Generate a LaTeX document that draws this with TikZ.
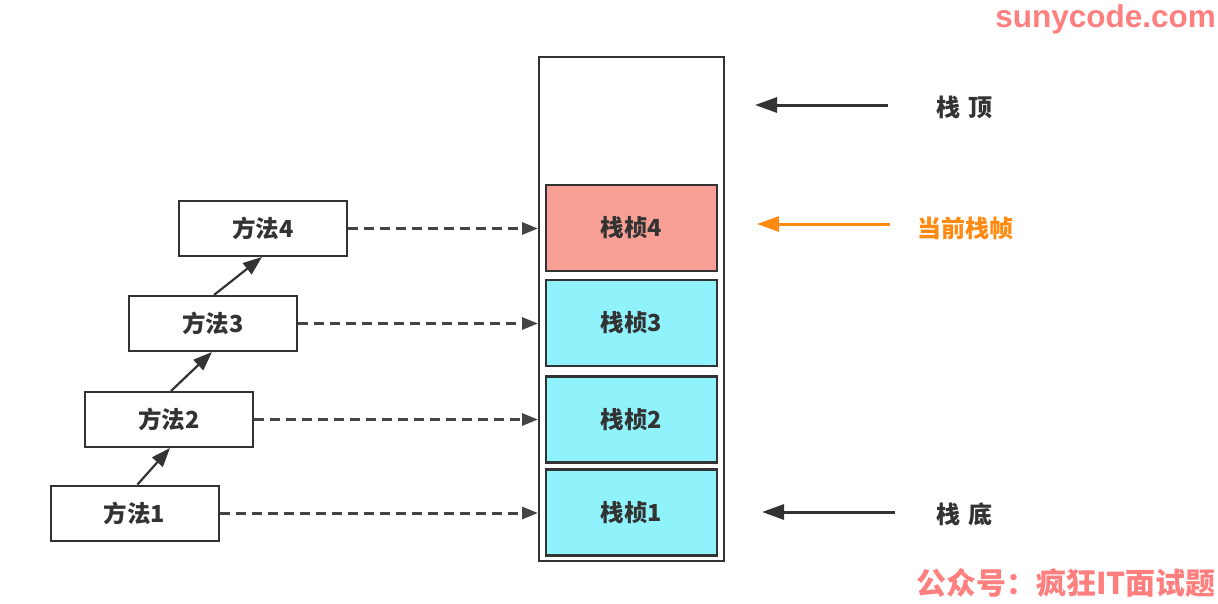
\documentclass[tikz,border=0pt]{standalone}
\usepackage{fontspec}
\newfontfamily\cjk{Noto Sans CJK SC}
\usetikzlibrary{arrows.meta}
\definecolor{lineC}{HTML}{333333}
\definecolor{dashC}{HTML}{444444}
\definecolor{redF}{HTML}{F9A096}
\definecolor{cyanF}{HTML}{90F3FB}
\definecolor{orangeC}{HTML}{FF8A12}
\definecolor{wmC}{HTML}{FF7F7F}
\begin{document}
\begin{tikzpicture}[x=1pt,y=-1pt,
  methodbox/.style={draw=lineC,line width=2pt,fill=white,minimum width=168pt,minimum height=55pt,inner sep=0pt,font=\cjk\bfseries\fontsize{23.5}{26}\selectfont,text=lineC},
  framebox/.style={draw=lineC,line width=2.2pt,minimum width=171pt,minimum height=86pt,inner sep=0pt,font=\cjk\bfseries\fontsize{23.5}{26}\selectfont,text=lineC},
  callarrow/.style={draw=lineC,line width=2.2pt,-{Triangle[length=19pt,width=14pt]}},
  linkarrow/.style={draw=dashC,line width=3pt,dash pattern=on 10pt off 6pt,-{Triangle[length=16pt,width=12pt]}},
  sidearrow/.style={line width=3pt,-{Triangle[length=22pt,width=15pt]}},
  sidelabel/.style={font=\cjk\bfseries\fontsize{24}{26}\selectfont,text=lineC,inner sep=0pt,anchor=west}]
\useasboundingbox (0,0) rectangle (1218,603);
% stack
\node[draw=lineC,line width=2pt,minimum width=185pt,minimum height=504pt,inner sep=0pt] (stack) at (631.5,309) {};
\node[framebox,fill=redF] (f4) at (631.5,228) {栈桢4};
\node[framebox,fill=cyanF] (f3) at (631.5,323) {栈桢3};
\node[framebox,fill=cyanF] (f2) at (631.5,419.5) {栈桢2};
\node[framebox,fill=cyanF] (f1) at (631.5,512.5) {栈桢1};
% methods
\node[methodbox] (m4) at (263,228.5) {方法4};
\node[methodbox] (m3) at (213,323.5) {方法3};
\node[methodbox] (m2) at (169,419.5) {方法2};
\node[methodbox] (m1) at (134.5,513) {方法1};
% calls
\draw[callarrow] ([xshift=3pt]m1.north) -- ([xshift=1pt]m2.south);
\draw[callarrow] ([xshift=2pt]m2.north) -- ([xshift=-1pt]m3.south);
\draw[callarrow] ([xshift=1pt]m3.north) -- ([xshift=-1pt]m4.south);
% links
\draw[linkarrow] (m4.east) -- (m4.east -| stack.west);
\draw[linkarrow] (m3.east) -- (m3.east -| stack.west);
\draw[linkarrow] (m2.east) -- (m2.east -| stack.west);
\draw[linkarrow] (m1.east) -- (m1.east -| stack.west);
% side labels
\node[sidelabel] (top) at (936,107) {栈\hspace{8pt}顶};
\node[sidelabel,text=orangeC] (cur) at (917,228) {当前栈帧};
\node[sidelabel] (bot) at (936,514) {栈\hspace{8pt}底};
\coordinate (topS) at (888,105);
\coordinate (topE) at (755,105);
\coordinate (curS) at (890,224);
\coordinate (curE) at (757,224);
\coordinate (botS) at (895,512);
\coordinate (botE) at (762,512);
\draw[sidearrow,draw=lineC,fill=lineC] (topS) -- (topE);
\draw[sidearrow,draw=orangeC,fill=orangeC] (curS) -- (curE);
\draw[sidearrow,draw=lineC,fill=lineC] (botS) -- (botE);
% watermarks
\node[anchor=east,inner sep=0pt,text=wmC,font=\fontspec{Liberation Sans}\bfseries\fontsize{31.5}{34}\selectfont] (wm1) at (1216,19) {sunycode.com};
\node[anchor=east,inner sep=0pt,text=wmC,font=\cjk\bfseries\fontsize{30}{34}\selectfont] (wm2) at (1216,583) {公众号：疯狂IT面试题};
\end{tikzpicture}
\end{document}
